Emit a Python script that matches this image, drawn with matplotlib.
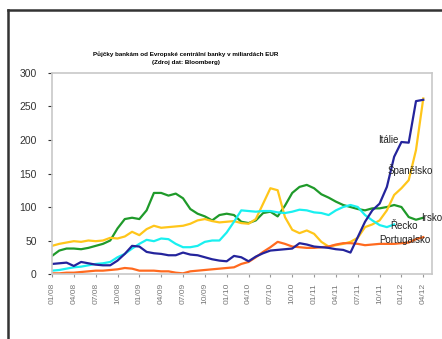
import matplotlib.pyplot as plt
from matplotlib.lines import Line2D

plt.rcParams['font.family'] = ['Liberation Sans', 'DejaVu Sans']

# quarterly tick labels, monthly data points from 01/08
tick_labels = ['01/08', '04/08', '07/08', '10/08', '01/09', '04/09', '07/09', '10/09',
               '01/10', '04/10', '07/10', '10/10', '01/11', '04/11', '07/11', '10/11',
               '01/12', '04/12']

italie = [15, 16, 17, 12, 18, 16, 14, 13, 13, 20, 30, 42, 41, 33, 31, 30, 28, 28, 32, 29,
          28, 25, 22, 20, 19, 27, 25, 19, 26, 31, 35, 36, 37, 38, 46, 44, 41, 40, 39, 37,
          36, 32, 55, 78, 95, 105, 130, 175, 197, 196, 258, 260]
spanelsko = [42, 45, 47, 49, 48, 50, 49, 50, 54, 53, 56, 63, 58, 67, 72, 69, 70, 71, 72, 75,
             80, 82, 79, 77, 78, 79, 76, 75, 82, 105, 128, 125, 85, 66, 61, 65, 60, 48, 41, 43,
             45, 48, 54, 70, 74, 80, 95, 118, 128, 140, 185, 262]
irsko = [27, 35, 38, 38, 37, 39, 42, 45, 50, 68, 82, 84, 82, 95, 121, 121, 117, 120, 113, 97,
         90, 86, 80, 88, 90, 88, 78, 76, 80, 91, 93, 86, 102, 121, 130, 133, 128, 119, 114, 108,
         103, 100, 97, 95, 98, 98, 100, 103, 100, 85, 81, 84]
recko = [5, 6, 8, 10, 11, 13, 15, 16, 18, 25, 30, 38, 45, 51, 49, 53, 52, 45, 40, 40,
         42, 48, 50, 50, 62, 78, 95, 94, 93, 94, 94, 92, 91, 93, 96, 95, 92, 91, 88, 95,
         100, 103, 100, 88, 80, 73, 70, 74]
portugalsko = [1, 1, 2, 2, 3, 4, 5, 5, 6, 7, 9, 8, 5, 5, 5, 4, 4, 2, 1, 4,
               5, 6, 7, 8, 9, 10, 15, 18, 25, 33, 40, 48, 45, 41, 40, 39, 39, 40, 41, 44,
               46, 46, 45, 43, 44, 45, 45, 45, 46, 47, 52, 55]

fig = plt.figure(figsize=(4.42, 3.39), dpi=100)
ax = fig.add_axes([0.1176, 0.1917, 0.8598, 0.593])

series = [
    (irsko, '#1f9a2a'),
    (spanelsko, '#ffc61a'),
    (recko, '#19f0f0'),
    (portugalsko, '#ff6a1f'),
    (italie, '#24249c'),
]
for values, color in series:
    ax.plot(range(len(values)), values, color=color, lw=1.6, solid_joinstyle='round')

ax.set_xlim(0, 52.2)
ax.set_ylim(0, 300)
ax.set_yticks(range(0, 301, 50))
ax.set_xticks(range(0, 52, 3))
ax.set_xticklabels(tick_labels, rotation=90, fontsize=6, color='#777777')
ax.tick_params(axis='y', labelsize=7.5, colors='#333333', length=3, width=0.8, pad=8)
ax.tick_params(axis='x', length=2.5, width=0.8, pad=4, colors='#999999')
for lbl in ax.get_xticklabels():
    lbl.set_color('#777777')
for lbl in ax.get_yticklabels():
    lbl.set_color('#333333')
for side in ax.spines.values():
    side.set_color('#c8c8c8')
    side.set_linewidth(1.2)

# series names next to the line ends
lbl_kw = dict(fontsize=7, color='#222222', va='center', clip_on=False)
ax.text(44.8, 200, 'Itálie', **lbl_kw)
ax.text(46.1, 155, 'Španělsko', **lbl_kw)
ax.text(50.7, 84, 'Irsko', **lbl_kw)
ax.text(46.5, 72, 'Řecko', **lbl_kw)
ax.text(44.9, 51, 'Portugalsko', **lbl_kw)

fig.text(0.421, 0.829, 'Půjčky bankám od Evropské centrální banky v miliardách EUR\n(Zdroj dat: Bloomberg)',
         ha='center', va='center', fontsize=4.5, fontweight='bold', linespacing=1.9)

# outer frame
fig.add_artist(Line2D([0.019, 0.019], [0, 0.97], color='#333333', lw=1.8))
fig.add_artist(Line2D([0.019, 1.0], [0.97, 0.97], color='#333333', lw=1.8))

fig.savefig('out.png', dpi=100)
